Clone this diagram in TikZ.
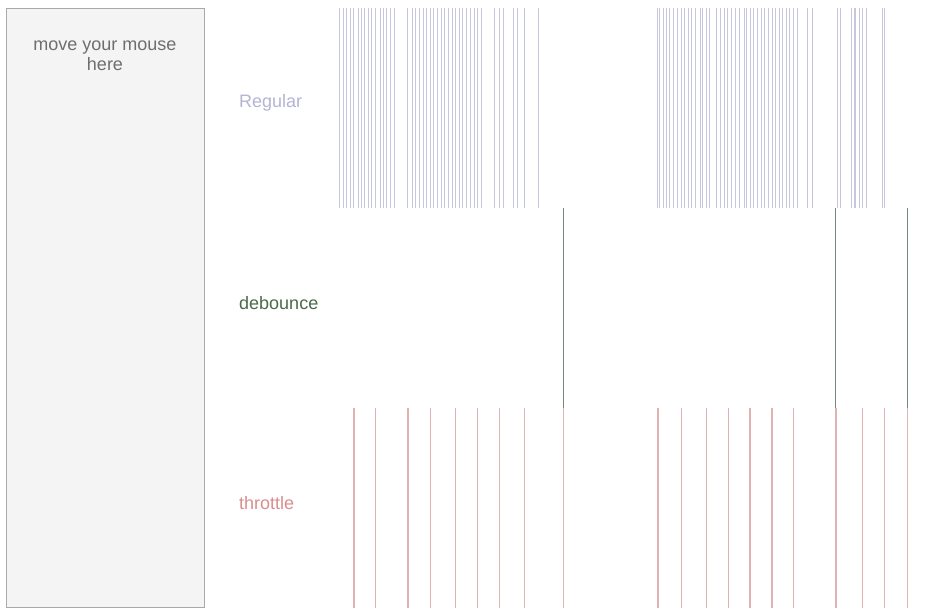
\documentclass[tikz,border=0pt]{standalone}
\usepackage{fontspec}
\setmainfont{Liberation Sans}
\usetikzlibrary{calc,positioning}

\definecolor{boxfill}{HTML}{F4F4F4}
\definecolor{boxline}{HTML}{A9A9A9}
\definecolor{boxtext}{HTML}{6E6E6E}
\definecolor{regtext}{HTML}{B4B4D4}
\definecolor{regcol}{HTML}{C6C6DE}
\definecolor{debtext}{HTML}{4A6A48}
\definecolor{debcol}{HTML}{728A7C}
\definecolor{thrtext}{HTML}{D98E8E}
\definecolor{thrcol}{HTML}{E2B2B2}

\tikzset{
  evlabel/.style={anchor=west,inner sep=0pt,font=\fontsize{18}{20}\selectfont},
  regline/.style={regcol,line width=1},
  debline/.style={debcol,line width=1.2},
  thrline/.style={thrcol,line width=1.2}
}

\begin{document}
\begin{tikzpicture}[x=1pt,y=-1pt]
	\useasboundingbox[fill=white] (0,0) rectangle (948,613);
	\coordinate (REG) at (0,8);
	\coordinate (DEB) at (0,208);
	\coordinate (THR) at (0,408);
	% mouse area
	\draw[boxline,fill=boxfill,line width=1] (6,8) rectangle (204,607);
	\node[align=center,text=boxtext,inner sep=0pt,font=\fontsize{18}{20}\selectfont] (mouse) at (105,56) {move your mouse\\here};
	% labels
	\node[evlabel,text=regtext] (regular) at ($ (REG) + (239,95) $) {Regular};
	\node[evlabel,text=debtext] (debounce) at ($ (DEB) + (239,95) $) {debounce};
	\node[evlabel,text=thrtext] (throttle) at ($ (THR) + (239,95) $) {throttle};
	% regular events
	\foreach \x in {339.3,343.3,346.3,350,353.3,358,361,364.7,368.3,371.7,375.3,380.3,383.3,386.7,390.3,394.3,
	  407.7,412.7,415.7,419.3,423,426.7,430.3,433.7,437.3,441,444.7,448.3,452,455.7,459.3,462.7,466.3,470,474.3,477.7,481.3,
	  494.7,499.3,503,513.3,517.3,524.3,538.3,
	  657.7,659,663,666.3,669.7,673.3,677.3,681,684.3,688,691.7,695.3,700.3,702.7,706,709.7,
	  716.7,720.3,724,727.7,731.3,735,739,744.3,746.7,750,753.7,757.3,761,764.7,768.3,772,775.3,779,782.7,786.3,789.7,793.3,797,
	  807.7,812,837.3,840.7,851.3,854.3,855.7,859,862.7,866.3,882.3,884}
	  \draw[regline] ($ (REG) + (\x,0) $) -- ++(0,200);
	% debounce events
	\foreach \x in {563.5,835.5,907.7}
	  \draw[debline] ($ (DEB) + (\x,0) $) -- ++(0,200);
	% throttle events
	\foreach \x in {354,375.7,408,430.3,455.7,477.3,499.3,524.3,563.7,
	  658,681.3,706.3,728.3,750,772,793.7,836,862.7,884.7,907.3}
	  \draw[thrline] ($ (THR) + (\x,0) $) -- ++(0,200);
\end{tikzpicture}
\end{document}
